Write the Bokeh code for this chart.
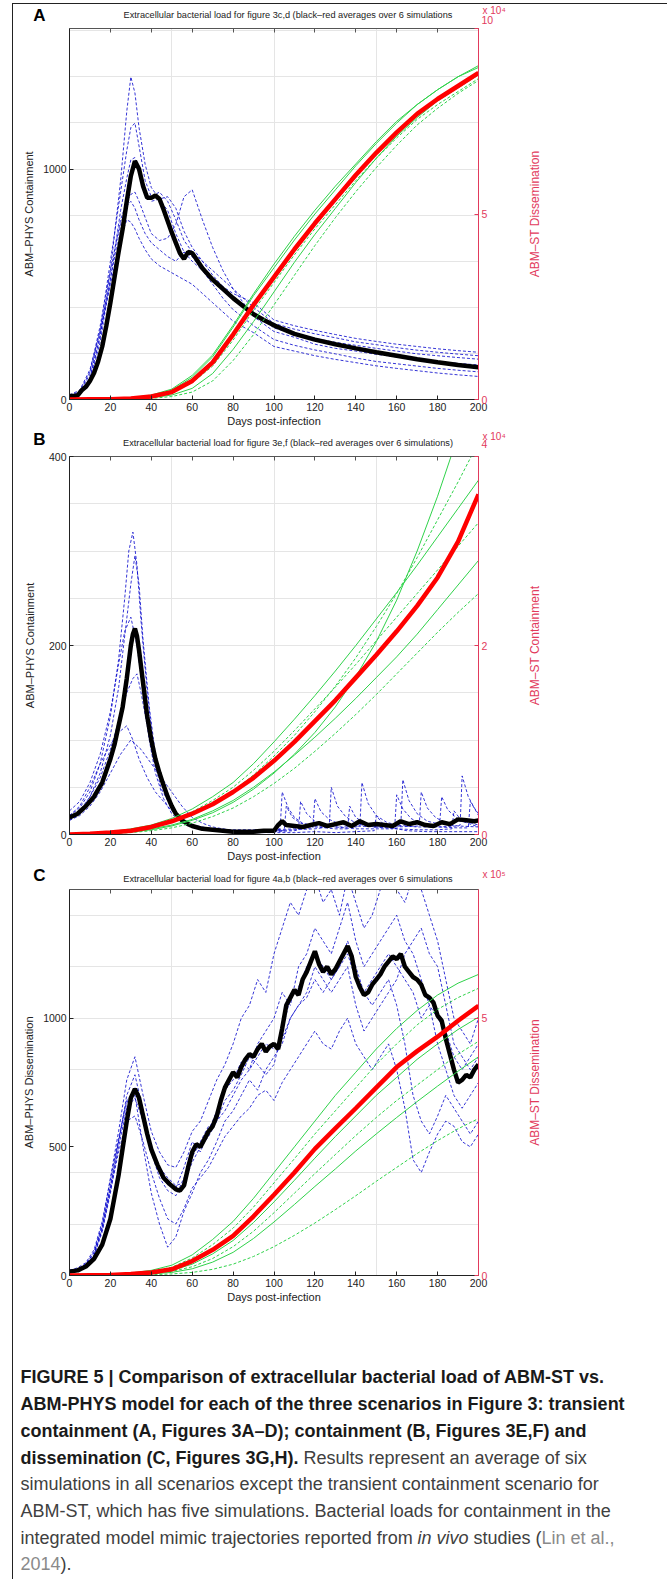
import math
from bokeh.plotting import figure
from bokeh.models import Range1d, LinearAxis, FixedTicker, InlineStyleSheet
from bokeh.layouts import column, row
from bokeh.embed import file_html
from bokeh.resources import INLINE
from bokeh.core.properties import value

FONT = "Liberation Sans"
BLUE = "#0000cc"
GREEN = "#2fd24a"
RED = "#ff0000"
AXRED = "#e23a5c"
INK = "#222222"

X_TICKS = list(range(0, 201, 20))
DAYS10 = list(range(0, 201, 10))

# ---------------- Panel A : transient containment ----------------
A_TITLE = "Extracellular bacterial load for figure 3c,d (black\u2013red averages over 6 simulations"
A_YLABEL = "ABM\u2013PHYS Containment"
A_Y2LABEL = "ABM\u2013ST Dissemination"
A_YTICKS = [0, 1000]
A_Y2TICKS = [0, 5, 10]
A_EXPO = "x 10\u2074"

A_AVG_DAYS = [0, 2, 4, 6, 8, 10, 12, 14, 16, 18, 20, 22, 24, 26, 28, 30, 32, 34, 36, 38, 40, 42, 44, 46,
              48, 50, 52, 54, 56, 58, 60, 62, 65, 70, 75, 80, 85, 90, 95, 100, 110, 120, 130, 140,
              150, 160, 170, 180, 190, 200]
A_AVG = [15, 15, 18, 40, 55, 80, 115, 165, 230, 320, 420, 530, 640, 740, 860, 970, 1035, 1000, 925, 875,
         875, 885, 870, 825, 775, 725, 680, 635, 610, 640, 635, 610, 570, 520, 480, 440, 405, 370, 345,
         322, 285, 260, 240, 222, 205, 190, 175, 162, 150, 140]

A_BLUE_DAYS = [0, 5, 10, 15, 20, 25, 28, 30, 32, 34, 37, 40, 44, 48, 52, 56, 60, 65, 70, 75, 80, 90, 100,
               110, 120, 130, 140, 150, 160, 170, 180, 190, 200]
A_BLUE_1 = [10, 25, 90, 270, 560, 950, 1250, 1400, 1330, 1180, 1020, 920, 870, 820, 720, 640, 600, 560,
            520, 490, 460, 420, 345, 320, 300, 282, 265, 252, 240, 230, 220, 212, 205]
A_BLUE_2 = [12, 30, 110, 300, 600, 900, 1080, 1180, 1200, 1100, 950, 880, 900, 860, 780, 690, 640, 600,
            560, 520, 480, 400, 330, 305, 285, 268, 250, 238, 225, 214, 205, 197, 190]
A_BLUE_3 = [8, 20, 80, 250, 520, 820, 960, 1040, 1050, 980, 900, 860, 870, 880, 830, 730, 660, 600, 540,
            490, 440, 380, 310, 285, 265, 248, 235, 222, 210, 198, 190, 182, 175]
A_BLUE_4 = [15, 35, 120, 320, 560, 780, 860, 890, 900, 860, 790, 720, 690, 700, 760, 880, 910, 780, 660,
            560, 480, 360, 295, 270, 240, 222, 210, 196, 185, 174, 165, 157, 150]
A_BLUE_5 = [10, 25, 95, 280, 520, 760, 840, 860, 830, 780, 720, 680, 650, 620, 600, 640, 620, 560, 500,
            440, 390, 320, 260, 235, 215, 198, 180, 165, 155, 145, 135, 127, 120]
A_BLUE_6 = [20, 40, 130, 300, 500, 700, 780, 770, 740, 700, 650, 610, 580, 560, 540, 520, 500, 460, 420,
            380, 340, 290, 230, 210, 190, 174, 160, 146, 135, 125, 115, 107, 100]

A_RED = [0, 0.005, 0.01, 0.03, 0.08, 0.2, 0.5, 1.0, 1.75, 2.55, 3.3, 4.05, 4.75, 5.4, 6.05, 6.65, 7.2,
         7.7, 8.1, 8.45, 8.8]
A_GREEN_1 = [0, 0.005, 0.01, 0.04, 0.1, 0.25, 0.6, 1.15, 1.95, 2.8, 3.55, 4.3, 5.0, 5.65, 6.3, 6.9, 7.45,
             7.95, 8.35, 8.7, 8.95]
A_GREEN_2 = [0, 0.004, 0.01, 0.03, 0.07, 0.18, 0.45, 0.9, 1.6, 2.4, 3.15, 3.9, 4.6, 5.25, 5.9, 6.5, 7.05,
             7.55, 7.95, 8.3, 8.65]
A_GREEN_3 = [0, 0.003, 0.008, 0.02, 0.05, 0.12, 0.3, 0.7, 1.35, 2.1, 2.9, 3.7, 4.45, 5.15, 5.85, 6.5, 7.1,
             7.6, 8.05, 8.4, 8.75]
A_GREEN_4 = [0, 0.002, 0.005, 0.01, 0.03, 0.08, 0.2, 0.5, 1.05, 1.75, 2.55, 3.35, 4.15, 4.9, 5.6, 6.25,
             6.85, 7.4, 7.85, 8.25, 8.6]
A_GREEN_5 = [0, 0.006, 0.015, 0.05, 0.12, 0.28, 0.65, 1.2, 2.0, 2.85, 3.65, 4.4, 5.1, 5.75, 6.35, 6.95,
             7.5, 7.95, 8.35, 8.7, 9.0]

# ---------------- Panel B : containment ----------------
B_TITLE = "Extracellular bacterial load for figure 3e,f (black\u2013red averages over 6 simulations)"
B_YLABEL = "ABM\u2013PHYS Containment"
B_Y2LABEL = "ABM\u2013ST Containment"
B_YTICKS = [0, 200, 400]
B_Y2TICKS = [0, 2, 4]
B_EXPO = "x 10\u2074"

B_AVG_DAYS = [0, 4, 8, 12, 16, 20, 22, 24, 26, 28, 30, 31, 32, 33, 34, 36, 38, 40, 42, 44, 46, 48, 50,
              52, 55, 58, 60, 65, 70, 75, 80, 85, 90, 95, 100, 102, 104, 106, 110, 114, 118, 122, 126,
              130, 134, 138, 142, 146, 150, 154, 158, 162, 166, 170, 174, 178, 182, 186, 190, 194, 198, 200]
B_AVG = [18, 22, 30, 40, 55, 80, 95, 115, 135, 165, 200, 212, 218, 210, 195, 160, 125, 100, 80, 65, 52,
         40, 30, 22, 15, 11, 9, 6, 5, 4, 3, 3, 3, 4, 4, 10, 14, 10, 9, 8, 10, 12, 9, 11, 13, 9, 14, 10,
         11, 10, 9, 14, 11, 13, 10, 9, 13, 11, 16, 15, 14, 15]

B_BLUE_1_DAYS = [0, 5, 10, 15, 20, 24, 27, 29, 31, 33, 35, 38, 41, 45, 50, 55, 60, 70, 80, 90, 100, 103,
                 104, 107, 110, 114, 120, 130, 140, 142, 143, 146, 150, 155, 160, 170, 180, 190, 191,
                 192, 195, 198, 200]
B_BLUE_1 = [20, 28, 45, 75, 125, 185, 250, 300, 320, 285, 225, 150, 95, 55, 28, 14, 8, 5, 4, 4, 5, 6, 45,
            28, 18, 12, 9, 8, 8, 9, 55, 33, 20, 13, 10, 8, 8, 9, 10, 62, 40, 28, 22]
B_BLUE_2_DAYS = [0, 5, 10, 15, 20, 24, 27, 30, 32, 34, 36, 39, 42, 46, 50, 55, 60, 70, 80, 90, 100, 110,
                 112, 113, 116, 120, 125, 130, 140, 150, 158, 159, 160, 163, 167, 172, 180, 190, 195,
                 196, 199, 200]
B_BLUE_2 = [15, 22, 40, 65, 105, 155, 210, 265, 295, 265, 205, 135, 85, 48, 26, 14, 8, 4, 3, 3, 3, 4, 5,
            35, 22, 14, 10, 8, 6, 6, 6, 7, 42, 27, 17, 11, 8, 7, 7, 35, 24, 20]
B_BLUE_3_DAYS = [0, 5, 10, 15, 20, 24, 27, 30, 33, 36, 39, 42, 46, 50, 55, 60, 70, 80, 90, 100, 110, 120,
                 127, 128, 131, 135, 140, 145, 150, 160, 171, 172, 175, 179, 185, 190, 200]
B_BLUE_3 = [25, 35, 55, 85, 130, 180, 215, 230, 200, 150, 100, 65, 38, 22, 12, 8, 5, 4, 4, 4, 5, 6, 8, 50,
            30, 19, 12, 9, 8, 8, 9, 45, 28, 18, 11, 9, 8]
B_BLUE_4_DAYS = [0, 5, 10, 15, 20, 24, 28, 31, 33, 35, 38, 41, 45, 50, 55, 60, 70, 80, 90, 100, 110, 119,
                 120, 123, 127, 132, 140, 150, 162, 163, 166, 170, 175, 181, 182, 185, 190, 200]
B_BLUE_4 = [18, 25, 40, 60, 90, 120, 150, 165, 170, 150, 115, 80, 48, 28, 15, 9, 6, 5, 5, 5, 6, 7, 38, 24,
            16, 11, 9, 8, 9, 58, 36, 22, 14, 11, 40, 26, 16, 10]
B_BLUE_5_DAYS = [0, 5, 10, 15, 20, 24, 28, 31, 34, 38, 42, 46, 50, 55, 60, 70, 80, 90, 100, 105, 106, 109,
                 113, 120, 130, 136, 137, 140, 145, 150, 160, 170, 180, 187, 188, 192, 200]
B_BLUE_5 = [20, 30, 50, 75, 95, 108, 115, 100, 80, 60, 45, 35, 25, 15, 10, 6, 4, 4, 4, 4, 30, 18, 12, 8, 6,
            6, 30, 18, 11, 8, 6, 5, 5, 6, 25, 14, 8]
B_BLUE_6_DAYS = [0, 5, 10, 15, 20, 25, 30, 35, 40, 45, 50, 55, 60, 65, 70, 80, 90, 100, 110, 120, 130, 140,
                 149, 150, 153, 158, 165, 175, 185, 195, 200]
B_BLUE_6 = [15, 20, 30, 45, 65, 85, 100, 90, 75, 60, 45, 30, 18, 12, 8, 4, 2, 2, 2, 3, 2, 3, 4, 20, 12, 7,
            4, 3, 3, 3, 3]

B_RED = [0, 0.008, 0.02, 0.04, 0.08, 0.14, 0.22, 0.32, 0.45, 0.6, 0.78, 0.98, 1.2, 1.42, 1.66, 1.9, 2.15,
         2.42, 2.72, 3.1, 3.6]
B_GREEN_1 = [0, 0.005, 0.012, 0.025, 0.05, 0.09, 0.15, 0.23, 0.34, 0.48, 0.65, 0.85, 1.08, 1.35, 1.67,
             2.04, 2.48, 3.0, 3.58, 4.22, 4.9]
B_GREEN_2 = [0, 0.008, 0.02, 0.04, 0.08, 0.13, 0.21, 0.32, 0.46, 0.63, 0.83, 1.05, 1.3, 1.57, 1.87, 2.2,
             2.55, 2.93, 3.33, 3.73, 4.15]
B_GREEN_3 = [0, 0.01, 0.03, 0.06, 0.1, 0.17, 0.27, 0.4, 0.55, 0.75, 0.98, 1.22, 1.47, 1.73, 2.0, 2.28,
             2.56, 2.85, 3.15, 3.45, 3.75]
B_GREEN_4 = [0, 0.01, 0.02, 0.05, 0.09, 0.15, 0.24, 0.36, 0.5, 0.68, 0.88, 1.1, 1.33, 1.56, 1.8, 2.05,
             2.3, 2.55, 2.8, 3.05, 3.3]
B_GREEN_5 = [0, 0.005, 0.015, 0.03, 0.06, 0.1, 0.16, 0.25, 0.36, 0.5, 0.66, 0.84, 1.03, 1.23, 1.44, 1.66,
             1.88, 2.12, 2.38, 2.64, 2.9]
B_GREEN_6 = [0, 0.005, 0.01, 0.02, 0.04, 0.07, 0.12, 0.19, 0.28, 0.4, 0.54, 0.7, 0.88, 1.07, 1.27, 1.48,
             1.7, 1.92, 2.14, 2.35, 2.55]

# ---------------- Panel C : dissemination ----------------
C_TITLE = "Extracellular bacterial load for figure 4a,b (black\u2013red averages over 6 simulations"
C_YLABEL = "ABM\u2013PHYS Dissemination"
C_Y2LABEL = "ABM\u2013ST Dissemination"
C_YTICKS = [0, 500, 1000]
C_Y2TICKS = [0, 5]
C_EXPO = "x 10\u2075"

C_AVG_DAYS = [0, 4, 8, 12, 16, 20, 24, 28, 30, 32, 34, 36, 38, 40, 43, 46, 49, 52, 54, 56, 58, 60, 62, 64,
              66, 68, 70, 72, 74, 76, 78, 80, 82, 84, 86, 88, 90, 92, 94, 96, 98, 100, 102, 104, 106, 108,
              110, 112, 114, 116, 118, 120, 122, 124, 126, 128, 130, 132, 134, 136, 138, 140, 142, 144,
              146, 148, 150, 152, 154, 156, 158, 160, 162, 164, 166, 168, 170, 172, 174, 176, 178, 180,
              182, 184, 186, 188, 190, 192, 194, 196, 198, 200]
C_AVG = [15, 20, 35, 65, 120, 220, 390, 600, 690, 725, 690, 620, 550, 490, 430, 380, 355, 335, 330, 350,
         420, 480, 510, 500, 530, 560, 580, 620, 680, 730, 760, 790, 770, 810, 840, 860, 850, 880, 900,
         870, 890, 900, 880, 960, 1050, 1080, 1110, 1090, 1150, 1180, 1220, 1260, 1210, 1180, 1200, 1170,
         1190, 1220, 1250, 1280, 1240, 1160, 1120, 1090, 1100, 1130, 1150, 1170, 1200, 1220, 1240, 1230,
         1250, 1200, 1180, 1160, 1150, 1130, 1090, 1080, 1060, 1010, 990, 920, 860, 800, 750, 760, 780,
         770, 800, 820]

C_BLUE_DAYS = list(range(0, 201, 4))
C_BLUE_1 = [20, 25, 45, 90, 200, 380, 560, 760, 850, 700, 560, 480, 430, 420, 480, 560, 600, 680, 760,
            820, 900, 1000, 1050, 1150, 1100, 1250, 1350, 1450, 1400, 1500, 1550, 1450, 1500, 1400, 1550,
            1450, 1350, 1400, 1500, 1550, 1500, 1450, 1550, 1500, 1400, 1300, 1150, 1000, 950, 900, 1000]
C_BLUE_2 = [15, 20, 40, 80, 180, 340, 520, 700, 780, 640, 500, 400, 360, 340, 420, 520, 480, 560, 640,
            720, 760, 830, 800, 900, 950, 1000, 1100, 1050, 1200, 1250, 1350, 1300, 1250, 1350, 1450, 1300,
            1200, 1250, 1300, 1350, 1400, 1300, 1250, 1150, 1050, 900, 800, 700, 650, 700, 750]
C_BLUE_3 = [20, 30, 50, 100, 210, 370, 530, 680, 700, 500, 320, 200, 110, 150, 250, 320, 400, 450, 520,
            600, 640, 700, 760, 720, 800, 850, 900, 1000, 1050, 1100, 1200, 1150, 1100, 1150, 1200, 1050,
            950, 1000, 1050, 1100, 1150, 1250, 1300, 1350, 1250, 1200, 1050, 900, 850, 800, 850]
C_BLUE_4 = [18, 22, 45, 90, 190, 350, 520, 670, 730, 620, 480, 380, 330, 310, 380, 460, 520, 580, 600,
            680, 720, 780, 850, 820, 780, 820, 950, 1080, 1120, 1200, 1250, 1200, 1150, 1200, 1300, 1200,
            1100, 1050, 1100, 1150, 1050, 900, 700, 600, 550, 620, 700, 650, 600, 550, 600]
C_BLUE_5 = [15, 20, 35, 75, 170, 320, 500, 650, 690, 600, 500, 420, 380, 350, 360, 440, 500, 540, 600,
            640, 700, 760, 800, 850, 900, 880, 920, 1000, 1050, 1080, 1150, 1100, 1150, 1200, 1250, 1150,
            1100, 1150, 1200, 1250, 1200, 1150, 1100, 1000, 1050, 1000, 950, 850, 800, 850, 900]
C_BLUE_6 = [20, 25, 40, 80, 180, 330, 480, 600, 620, 520, 400, 300, 220, 200, 260, 340, 380, 420, 480,
            540, 580, 620, 650, 700, 720, 680, 750, 800, 850, 900, 950, 900, 880, 950, 1000, 900, 850, 800,
            850, 900, 800, 650, 450, 400, 480, 550, 600, 580, 520, 500, 550]

C_RED = [0, 0.005, 0.01, 0.03, 0.06, 0.12, 0.28, 0.5, 0.77, 1.15, 1.57, 2.0, 2.46, 2.86, 3.25, 3.65, 4.05,
         4.36, 4.64, 4.95, 5.24]
C_GREEN_1 = [0, 0.008, 0.02, 0.05, 0.1, 0.2, 0.4, 0.7, 1.05, 1.5, 2.0, 2.5, 3.0, 3.5, 3.95, 4.4, 4.8,
             5.15, 5.45, 5.68, 5.85]
C_GREEN_2 = [0, 0.006, 0.015, 0.04, 0.08, 0.16, 0.34, 0.6, 0.92, 1.33, 1.8, 2.27, 2.75, 3.2, 3.65, 4.1,
             4.5, 4.87, 5.17, 5.4, 5.58]
C_GREEN_3 = [0, 0.004, 0.01, 0.025, 0.05, 0.1, 0.22, 0.42, 0.68, 1.03, 1.43, 1.85, 2.28, 2.7, 3.1, 3.5,
             3.85, 4.2, 4.5, 4.78, 5.02]
C_GREEN_4 = [0, 0.003, 0.008, 0.02, 0.04, 0.08, 0.17, 0.33, 0.56, 0.86, 1.22, 1.6, 1.98, 2.35, 2.72, 3.07,
             3.4, 3.7, 4.0, 4.3, 4.55]
C_GREEN_5 = [0, 0.002, 0.006, 0.015, 0.03, 0.06, 0.13, 0.26, 0.45, 0.72, 1.04, 1.38, 1.73, 2.07, 2.42,
             2.75, 3.07, 3.38, 3.68, 3.97, 4.25]
C_GREEN_6 = [0, 0.001, 0.003, 0.008, 0.015, 0.03, 0.06, 0.12, 0.22, 0.37, 0.56, 0.78, 1.02, 1.28, 1.55,
             1.83, 2.1, 2.37, 2.62, 2.85, 3.05]

# ---------------- Caption ----------------
CAP_BOLD = [
    "FIGURE 5 | Comparison of extracellular bacterial load of ABM-ST vs.",
    "ABM-PHYS model for each of the three scenarios in Figure 3: transient",
    "containment (A, Figures 3A\u2013D); containment (B, Figures 3E,F) and",
    "dissemination (C, Figures 3G,H).",
]
CAP_REGULAR = [
    "Results represent an average of six",
    "simulations in all scenarios except the transient containment scenario for",
    "ABM-ST, which has five simulations. Bacterial loads for containment in the",
    "integrated model mimic trajectories reported from",
    "studies (",
    ")."
]
CAP_ITALIC = "in vivo"
CAP_CITE = ["Lin et al.,", "2014"]

W = 654
FRAME_LEFT = 56
FRAME_W = 409
PLOT_W = 510
SIDE_W = W - PLOT_W


def style_axis(ax, color=INK):
    ax.major_tick_in = 4
    ax.major_tick_out = 0
    ax.minor_tick_line_color = None
    ax.axis_line_color = color
    ax.major_tick_line_color = color
    ax.major_label_text_font = FONT
    ax.major_label_text_font_size = "10.5px"
    ax.major_label_text_color = color
    ax.major_label_standoff = 3
    ax.axis_label_text_font = FONT
    ax.axis_label_text_font_size = "11px"
    ax.axis_label_text_font_style = "normal"
    ax.axis_label_text_color = color


def blank(width, height, xr, yr, **kw):
    f = figure(width=width, height=height, x_range=xr, y_range=yr, output_backend="svg",
               toolbar_location=None, x_axis_location=None, y_axis_location=None, **kw)
    f.outline_line_color = None
    f.xgrid.visible = False
    f.ygrid.visible = False
    return f


def header(h, letter, letter_y, title, title_y, expo, expo_y, toptick=None, toptick_y=None):
    f = blank(W, h, Range1d(0, W), Range1d(h, 0), min_border=0)
    f.text(x=[26], y=[letter_y], text=[letter], text_font=value(FONT), text_font_size="17px",
           text_font_style="bold", text_align="center", text_baseline="middle", text_color="black")
    f.text(x=[FRAME_LEFT + FRAME_W / 2 + 14], y=[title_y], text=[title], text_font=value(FONT),
           text_font_size="9.2px", text_align="center", text_baseline="middle", text_color=INK)
    f.text(x=[469], y=[expo_y], text=[expo], text_font=value(FONT), text_font_size="10px",
           text_align="left", text_baseline="middle", text_color=AXRED)
    if toptick is not None:
        f.text(x=[FRAME_LEFT + FRAME_W + 3], y=[toptick_y], text=[toptick], text_font=value(FONT),
               text_font_size="10.5px", text_align="left", text_baseline="middle", text_color=AXRED)
    return f


def panel(ylab, y2lab, ymax, yticks, y2max, y2ticks, blues, avg_days, avg, greens, red,
          height, top, bottom, ylab_standoff):
    p = figure(width=PLOT_W, height=height, x_range=Range1d(0, 200), y_range=Range1d(0, ymax),
               output_backend="svg", toolbar_location=None,
               x_axis_location=None, y_axis_location=None,
               min_border_left=FRAME_LEFT, min_border_right=PLOT_W - FRAME_LEFT - FRAME_W,
               min_border_top=top, min_border_bottom=bottom)
    p.outline_line_color = None
    p.extra_y_ranges = {"r": Range1d(0, y2max)}

    xb = LinearAxis(ticker=FixedTicker(ticks=X_TICKS), axis_label="Days post-infection")
    style_axis(xb)
    xb.axis_label_standoff = 1
    p.add_layout(xb, "below")

    xt = LinearAxis(ticker=FixedTicker(ticks=X_TICKS),
                    major_label_overrides={t: "" for t in X_TICKS})
    style_axis(xt, "#555555")
    xt.major_label_text_font_size = "1px"
    xt.major_label_standoff = 0
    p.add_layout(xt, "above")

    yl = LinearAxis(ticker=FixedTicker(ticks=yticks), axis_label=ylab)
    style_axis(yl)
    yl.axis_label_standoff = ylab_standoff
    p.add_layout(yl, "left")

    # the tick label at the very top of the red axis is written in the header above
    yr = LinearAxis(y_range_name="r", ticker=FixedTicker(ticks=y2ticks),
                    major_label_overrides={t: "" for t in y2ticks if t >= y2max})
    style_axis(yr, AXRED)
    p.add_layout(yr, "right")

    for d, v in blues:
        p.line(d, v, color=BLUE, line_width=0.8, line_dash="3 2")
    p.line(avg_days, avg, color="black", line_width=4.5)
    for i, g in enumerate(greens):
        p.line(DAYS10, g, y_range_name="r", color=GREEN, line_width=1.0,
               line_dash="solid" if i % 2 == 0 else "3 2")
    p.line(DAYS10, red, y_range_name="r", color=RED, line_width=4.5)

    s = blank(SIDE_W, height, Range1d(0, SIDE_W), Range1d(0, 1),
              min_border_left=0, min_border_right=0, min_border_top=top, min_border_bottom=bottom)
    s.text(x=[11], y=[0.5], text=[y2lab], angle=math.pi / 2, text_font=value(FONT),
           text_font_size="12px", text_align="center", text_baseline="middle", text_color=AXRED)
    return row(p, s, spacing=0)


hA = header(22, "A", 11, A_TITLE, 10, A_EXPO, 6, str(A_Y2TICKS[-1]), 15)
rA = panel(A_YLABEL, A_Y2LABEL, 1610, A_YTICKS, 10, A_Y2TICKS,
           [(A_BLUE_DAYS, A_BLUE_1), (A_BLUE_DAYS, A_BLUE_2), (A_BLUE_DAYS, A_BLUE_3),
            (A_BLUE_DAYS, A_BLUE_4), (A_BLUE_DAYS, A_BLUE_5), (A_BLUE_DAYS, A_BLUE_6)],
           A_AVG_DAYS, A_AVG, [A_GREEN_1, A_GREEN_2, A_GREEN_3, A_GREEN_4, A_GREEN_5], A_RED,
           height=403, top=2, bottom=29, ylab_standoff=5)

hB = header(20, "B", 10, B_TITLE, 13.5, B_EXPO, 7, str(B_Y2TICKS[-1]), 14)
rB = panel(B_YLABEL, B_Y2LABEL, 400, B_YTICKS, 4, B_Y2TICKS,
           [(B_BLUE_1_DAYS, B_BLUE_1), (B_BLUE_2_DAYS, B_BLUE_2), (B_BLUE_3_DAYS, B_BLUE_3),
            (B_BLUE_4_DAYS, B_BLUE_4), (B_BLUE_5_DAYS, B_BLUE_5), (B_BLUE_6_DAYS, B_BLUE_6)],
           B_AVG_DAYS, B_AVG, [B_GREEN_1, B_GREEN_2, B_GREEN_3, B_GREEN_4, B_GREEN_5, B_GREEN_6],
           B_RED, height=415, top=7, bottom=28, ylab_standoff=10)

hC = header(21, "C", 10.6, C_TITLE, 14.6, C_EXPO, 9.6)
rC = panel(C_YLABEL, C_Y2LABEL, 1500, C_YTICKS, 7.5, C_Y2TICKS,
           [(C_BLUE_DAYS, C_BLUE_1), (C_BLUE_DAYS, C_BLUE_2), (C_BLUE_DAYS, C_BLUE_3),
            (C_BLUE_DAYS, C_BLUE_4), (C_BLUE_DAYS, C_BLUE_5), (C_BLUE_DAYS, C_BLUE_6)],
           C_AVG_DAYS, C_AVG, [C_GREEN_1, C_GREEN_2, C_GREEN_3, C_GREEN_4, C_GREEN_5, C_GREEN_6],
           C_RED, height=425, top=4, bottom=35, ylab_standoff=5)

# caption (pixel coordinates, y downward)
CAP_H = 269
pc = blank(W, CAP_H, Range1d(0, W), Range1d(CAP_H, 0), min_border=0)
LY = [66, 93, 120, 147, 173, 200, 227, 253]
FS = "18px"
pc.text(x=[7, 7, 7, 7], y=LY[:4], text=CAP_BOLD, text_font=value(FONT), text_font_size=FS,
        text_font_style="bold", text_baseline="middle", text_color="#1a1a1a")
pc.text(x=[290, 7, 7, 7, 460, 47], y=[LY[3], LY[4], LY[5], LY[6], LY[6], LY[7]], text=CAP_REGULAR,
        text_font=value(FONT), text_font_size=FS, text_baseline="middle", text_color="#404040")
pc.text(x=[404], y=[LY[6]], text=[CAP_ITALIC], text_font=value(FONT), text_font_size=FS,
        text_font_style="italic", text_baseline="middle", text_color="#404040")
pc.text(x=[528, 7], y=[LY[6], LY[7]], text=CAP_CITE, text_font=value(FONT), text_font_size=FS,
        text_baseline="middle", text_color="#8a8a8a")

frame_css = InlineStyleSheet(css=":host { border-left: 1px solid #222; border-top: 1px solid #222; }")
layout = column(row(hA), rA, row(hB), rB, row(hC), rC, row(pc), spacing=0, margin=(3, 0, 0, 12),
                stylesheets=[frame_css])

with open("out.html", "w") as f:
    f.write(file_html(layout, INLINE))
